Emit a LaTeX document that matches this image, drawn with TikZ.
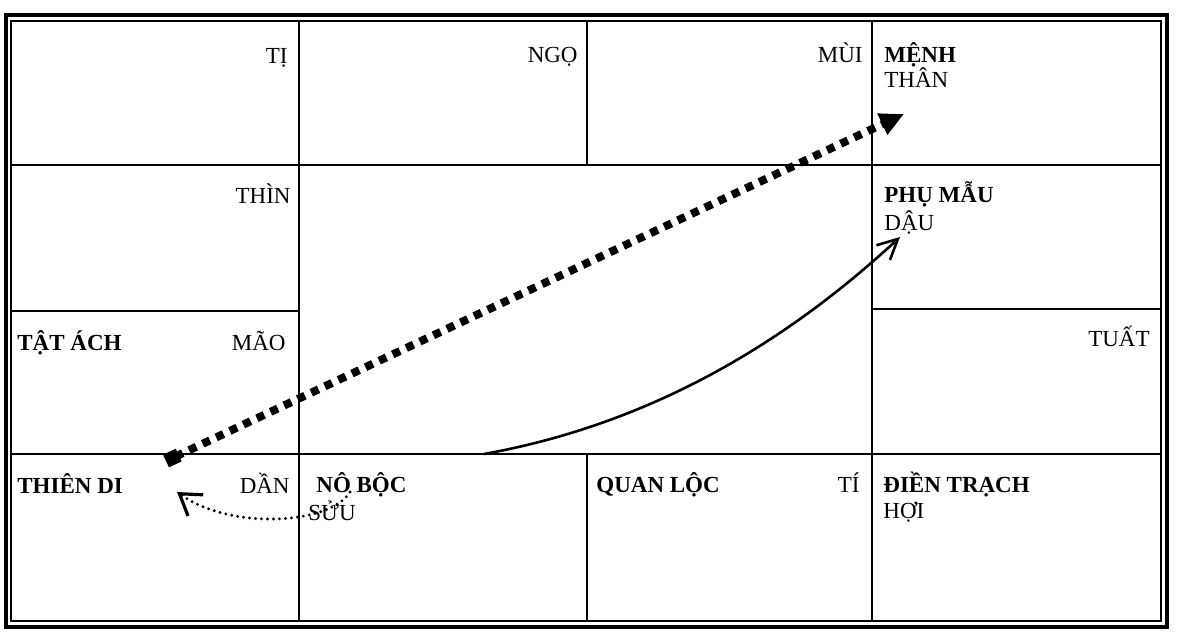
\documentclass[tikz,border=0pt]{standalone}
\usepackage{fontspec}
\setmainfont{Liberation Serif}
\usepackage{tikz}
\usetikzlibrary{positioning,arrows.meta}

\begin{document}
\begin{tikzpicture}[
  x=0.5pt, y=-0.5pt,
  every node/.style={font=\fontsize{11.5}{12.5}\selectfont, inner sep=0pt},
  palace/.style={font=\fontsize{11.5}{12.5}\selectfont\bfseries, anchor=base west},
  branchR/.style={anchor=base east},
  branchL/.style={anchor=base west},
  gridline/.style={line width=1.4pt},
  bigdots/.style={line width=4pt, dash pattern=on 4pt off 3.5pt, {Square[length=7pt,width=7pt]}-{Triangle[length=12pt,width=11pt]}},
  thinarrow/.style={line width=1.3pt, -{Straight Barb[length=10pt,width=10pt]}},
  smalldots/.style={line width=1.6pt, line cap=round, dash pattern=on 0pt off 3pt, -{Straight Barb[length=10pt,width=13pt]}}
]
\useasboundingbox (0,0) rectangle (1186,639);

% double frame
\draw[line width=1.8pt] (6,15) rectangle (1167,627);
\draw[line width=1.2pt] (11,21) rectangle (1161,621);

% cells
\draw[gridline] (11,165) -- (1161,165);
\draw[gridline] (11,454) -- (1161,454);
\draw[gridline] (11,311) -- (299,311);
\draw[gridline] (872,309) -- (1161,309);
\draw[gridline] (299,21) -- (299,621);
\draw[gridline] (872,21) -- (872,621);
\draw[gridline] (587,21) -- (587,165);
\draw[gridline] (587,454) -- (587,621);

% top row
\node[branchR] (ti) at (288,63) {TỊ};
\node[branchR] (ngo) at (578,62) {NGỌ};
\node[branchR] (mui) at (863,62) {MÙI};
\node[palace] (menh) at (884,62) {MỆNH};
\node[branchL] (than) at (884,87) {THÂN};

% second row
\node[branchR] (thin) at (291,203) {THÌN};
\node[palace] (phumau) at (884,202) {PHỤ MẪU};
\node[branchL] (dau) at (884,230) {DẬU};

% third row
\node[palace] (tatach) at (17,350) {TẬT ÁCH};
\node[branchR] (mao) at (286,350) {MÃO};
\node[branchR] (tuat) at (1150,346) {TUẤT};

% bottom row
\node[palace] (thiendi) at (17,493) {THIÊN DI};
\node[branchR] (dan) at (290,493) {DẦN};
\node[palace] (nobo) at (316,492) {NÔ BỘC};
\node[branchL] (suu) at (308,520) {SỬU};
\node[palace] (quanloc) at (596,492) {QUAN LỘC};
\node[branchR] (tyi) at (860,492) {TÍ};
\node[palace] (dientrach) at (883,492) {ĐIỀN TRẠCH};
\node[branchL] (hoi) at (883,518) {HỢI};

% arrow ends
\coordinate (tdSq) at (166,461);
\coordinate (menhTip) at (904,114);
\coordinate (nbTop) at (484,454);
\coordinate (pmTip) at (900,237);
\coordinate (nbDot) at (350,492);
\coordinate (tdTip) at (177,492);

\draw[bigdots] (tdSq) -- (menhTip);
\draw[thinarrow] (nbTop) .. controls (645,425) and (780,348) .. (pmTip);
\draw[smalldots] (nbDot) .. controls (330,525) and (230,530) .. (tdTip);
\end{tikzpicture}
\end{document}
